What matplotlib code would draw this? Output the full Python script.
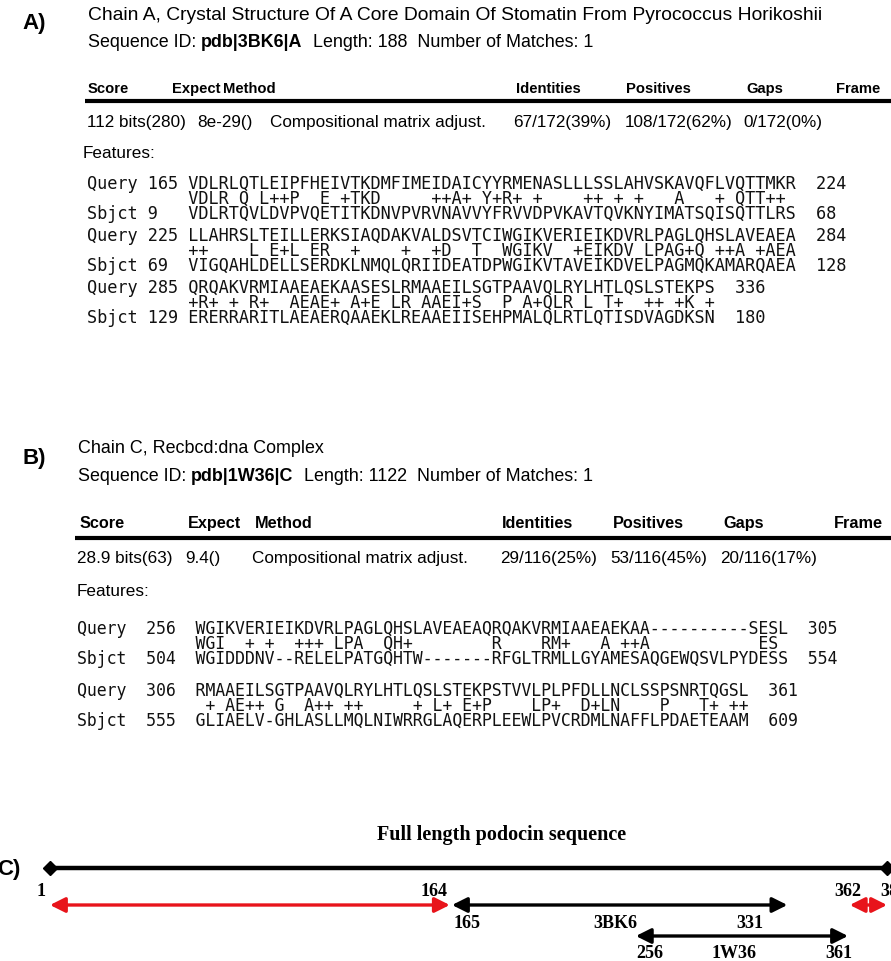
import numpy as np
import matplotlib
matplotlib.use("Agg")
import matplotlib.pyplot as plt

# ---------------- A) BLAST hit 3BK6 ----------------
a_title = "Chain A, Crystal Structure Of A Core Domain Of Stomatin From Pyrococcus Horikoshii"
a_id = "pdb|3BK6|A"
a_length = 188
a_matches = 1
headers = ["Score", "Expect", "Method", "Identities", "Positives", "Gaps", "Frame"]
a_stats = ["112 bits(280)", "8e-29()", "Compositional matrix adjust.",
           "67/172(39%)", "108/172(62%)", "0/172(0%)"]
a_q_start = [165, 225, 285]
a_q_end = [224, 284, 336]
a_s_start = [9, 69, 129]
a_s_end = [68, 128, 180]
a_query = ["VDLRLQTLEIPFHEIVTKDMFIMEIDAICYYRMENASLLLSSLAHVSKAVQFLVQTTMKR",
           "LLAHRSLTEILLERKSIAQDAKVALDSVTCIWGIKVERIEIKDVRLPAGLQHSLAVEAEA",
           "QRQAKVRMIAAEAEKAASESLRMAAEILSGTPAAVQLRYLHTLQSLSTEKPS"]
a_mid = ["VDLR Q L++P  E +TKD     ++A+ Y+R+ +    ++ + +   A   + QTT++",
         "++    L E+L ER  +    +  +D  T  WGIKV  +EIKDV LPAG+Q ++A +AEA",
         "+R+ + R+  AEAE+ A+E LR AAEI+S  P A+QLR L T+  ++ +K +"]
a_sbjct = ["VDLRTQVLDVPVQETITKDNVPVRVNAVVYFRVVDPVKAVTQVKNYIMATSQISQTTLRS",
           "VIGQAHLDELLSERDKLNMQLQRIIDEATDPWGIKVTAVEIKDVELPAGMQKAMARQAEA",
           "ERERRARITLAEAERQAAEKLREAAEIISEHPMALQLRTLQTISDVAGDKSN"]

# ---------------- B) BLAST hit 1W36 ----------------
b_title = "Chain C, Recbcd:dna Complex"
b_id = "pdb|1W36|C"
b_length = 1122
b_matches = 1
b_stats = ["28.9 bits(63)", "9.4()", "Compositional matrix adjust.",
           "29/116(25%)", "53/116(45%)", "20/116(17%)"]
b_q_start = [256, 306]
b_q_end = [305, 361]
b_s_start = [504, 555]
b_s_end = [554, 609]
b_query = ["WGIKVERIEIKDVRLPAGLQHSLAVEAEAQRQAKVRMIAAEAEKAA----------SESL",
           "RMAAEILSGTPAAVQLRYLHTLQSLSTEKPSTVVLPLPFDLLNCLSSPSNRTQGSL"]
b_mid = ["WGI  + +  +++ LPA  QH+        R    RM+   A ++A           ES",
         " + AE++ G  A++ ++     + L+ E+P    LP+  D+LN    P   T+ ++"]
b_sbjct = ["WGIDDDNV--RELELPATGQHTW-------RFGLTRMLLGYAMESAQGEWQSVLPYDESS",
           "GLIAELV-GHLASLLMQLNIWRRGLAQERPLEEWLPVCRDMLNAFFLPDAETEAAM"]

# ---------------- C) podocin map ----------------
podocin_len = 383
seg_start = [1, 165, 256, 362]
seg_end = [164, 331, 361, 383]
seg_name = ["", "3BK6", "1W36", ""]

SANS = ["Liberation Sans", "DejaVu Sans"]
MONO = ["DejaVu Sans Mono"]
SERIF = ["Liberation Serif", "DejaVu Serif"]

fig = plt.figure(figsize=(8.91, 9.61), dpi=100)
ax = fig.add_axes([0, 0, 1, 1])
ax.set_xlim(0, 891)
ax.set_ylim(961, 0)
ax.axis("off")


def base(y, size):
    # baseline from the vertical centre of capitals (pixels, y down)
    return y + 0.36 * size * 100 / 72


def chain(x, y, parts, size):
    # pieces of one line drawn one after another (mixed bold / normal)
    t = ax.text(x, base(y, size), parts[0][0], fontsize=size, fontweight=parts[0][1],
                family=SANS, va="baseline", ha="left")
    for s, w in parts[1:]:
        t = ax.annotate(s, xy=(1, 0), xycoords=t, va="bottom", ha="left",
                        fontsize=size, fontweight=w, family=SANS)


def blast_head(lab, lab_xy, title, pid, length, matches, x0, y_title, t_size, id_size,
               head_x, head_y, head_size, rule_y, rule_x0):
    ax.text(lab_xy[0], base(lab_xy[1], 16), lab, fontsize=16, fontweight="bold", family=SANS,
            va="baseline", ha="left")
    ax.text(x0, base(y_title, t_size), title, fontsize=t_size, family=SANS, va="baseline")
    chain(x0, y_title + 28, [("Sequence ID: ", "normal"), (pid, "bold"),
                             ("  Length: %d  Number of Matches: %d" % (length, matches), "normal")],
          id_size)
    for h, hx in zip(headers, head_x):
        ax.text(hx, base(head_y, head_size), h, fontsize=head_size, fontweight="bold",
                family=SANS, va="baseline")
    ax.plot([rule_x0, 891], [rule_y, rule_y], color="black", lw=3.0, solid_capstyle="butt")


def stats_row(vals, xs, y, feat_x, feat_y):
    for s, sx in zip(vals, xs):
        ax.text(sx, base(y, 12.3), s, fontsize=12.3, family=SANS, va="baseline")
    ax.text(feat_x, base(feat_y, 12.3), "Features:", fontsize=12.3, family=SANS, va="baseline")


def alignment(rows_y, q_start, q_end, query, mid, s_start, s_end, sbjct,
              x0, lab_w, num_w, size, step):
    for i, y in enumerate(rows_y):
        q = "Query".ljust(lab_w) + str(q_start[i]).ljust(num_w) + query[i] + "  " + str(q_end[i])
        m = " " * (lab_w + num_w) + mid[i]
        s = "Sbjct".ljust(lab_w) + str(s_start[i]).ljust(num_w) + sbjct[i] + "  " + str(s_end[i])
        for k, line in enumerate([q, m, s]):
            ax.text(x0, base(y + k * step, size * 1.01), line, fontsize=size, family=MONO,
                    va="baseline", ha="left", color="#111111")


# ---- panel A ----
blast_head("A)", (22, 21), a_title, a_id, a_length, a_matches, 88, 13, 13.9, 12.9,
           [88, 172, 223, 516, 626, 746, 836], 88, 10.6, 101, 85)
stats_row(a_stats, [87, 197, 270, 513, 625, 743], 121, 83, 152)
alignment([183, 235, 287], a_q_start, a_q_end, a_query, a_mid, a_s_start, a_s_end, a_sbjct,
          87, 6, 4, 12.15, 15)

# ---- panel B ----
blast_head("B)", (22, 456), b_title, b_id, b_length, b_matches, 78, 447, 12.9, 12.9,
           [80, 188, 255, 502, 613, 723, 834], 522, 11.7, 538, 75)
stats_row(b_stats, [77, 185, 252, 500, 610, 720], 557, 77, 590)
alignment([628, 690], b_q_start, b_q_end, b_query, b_mid, b_s_start, b_s_end, b_sbjct,
          77, 7, 5, 11.9, 15)

# ---- panel C: residue positions mapped onto the drawing ----
anc_seq = np.array([-60.0, 1.0, 164.5, 361.0, 383.0, 460.0])
anc_px = np.array([50 - 61 * 2.4526, 50.0, 451.0, 848.0, 887.0, 887 + 77 * 1.8])


def fwd(v):
    return np.interp(v, anc_seq, anc_px)


def inv(p):
    return np.interp(p, anc_px, anc_seq)


axc = fig.add_axes([0, 0, 1, 1])
axc.set_xscale("function", functions=(fwd, inv))
axc.set_xlim(inv(0), inv(891))
axc.set_ylim(961, 0)
axc.axis("off")

ax.text(-3, base(867, 16), "C)", fontsize=16, fontweight="bold", family=SANS,
        va="baseline", ha="left")
ax.text(502, base(833, 14.5), "Full length podocin sequence", fontsize=14.5,
        fontweight="bold", family=SERIF, ha="center", va="baseline")
axc.plot([1, podocin_len], [868, 868], color="black", lw=3.2, marker="D", ms=7,
         solid_capstyle="butt")

num_kw = dict(fontsize=13, fontweight="bold", family=SERIF, va="baseline")
px = 72 / 100  # points per pixel
row_y = [905, 905, 936, 905]
lab_gap = [0, 17, 15, 0]
# label offsets (pixels) for start / end numbers under the matched arrows
start_dx = [0, 2, 0, 0]
end_dx = [0, -24, 4, 0]
name_dx = [0, -4, -8, 0]
for i, (a, b, name, y) in enumerate(zip(seg_start, seg_end, seg_name, row_y)):
    col = "black" if name else "#e8141b"
    axc.annotate("", xy=(b, y), xytext=(a, y),
                 arrowprops=dict(arrowstyle="<|-|>,head_length=0.9,head_width=0.45",
                                 color=col, lw=2.4, shrinkA=0, shrinkB=0))
    if name:
        yl = base(y + lab_gap[i], 13)
        axc.annotate(name, xy=((a + b) / 2, yl), xytext=(name_dx[i] * px, 0),
                     textcoords="offset points", ha="center", **num_kw)
        axc.annotate(str(a), xy=(a, yl), xytext=(start_dx[i] * px, 0), textcoords="offset points",
                     ha="left", **num_kw)
        axc.annotate(str(b), xy=(b, yl), xytext=(end_dx[i] * px, 0), textcoords="offset points",
                     ha="right", **num_kw)
    else:
        yl = base(890, 13)
        if a == 1:
            axc.annotate(str(a), xy=(a, yl), xytext=(-4 * px, 0), textcoords="offset points",
                         ha="right", **num_kw)
            axc.annotate(str(b), xy=(b, yl), xytext=(-2 * px, 0), textcoords="offset points",
                         ha="right", **num_kw)
        else:
            axc.annotate(str(a), xy=(a, yl), xytext=(-15 * px, 0), textcoords="offset points",
                         ha="left", **num_kw)
            axc.annotate(str(b), xy=(b, yl), xytext=(-7 * px, 0), textcoords="offset points",
                         ha="left", **num_kw)

fig.savefig("out.png", dpi=100)
